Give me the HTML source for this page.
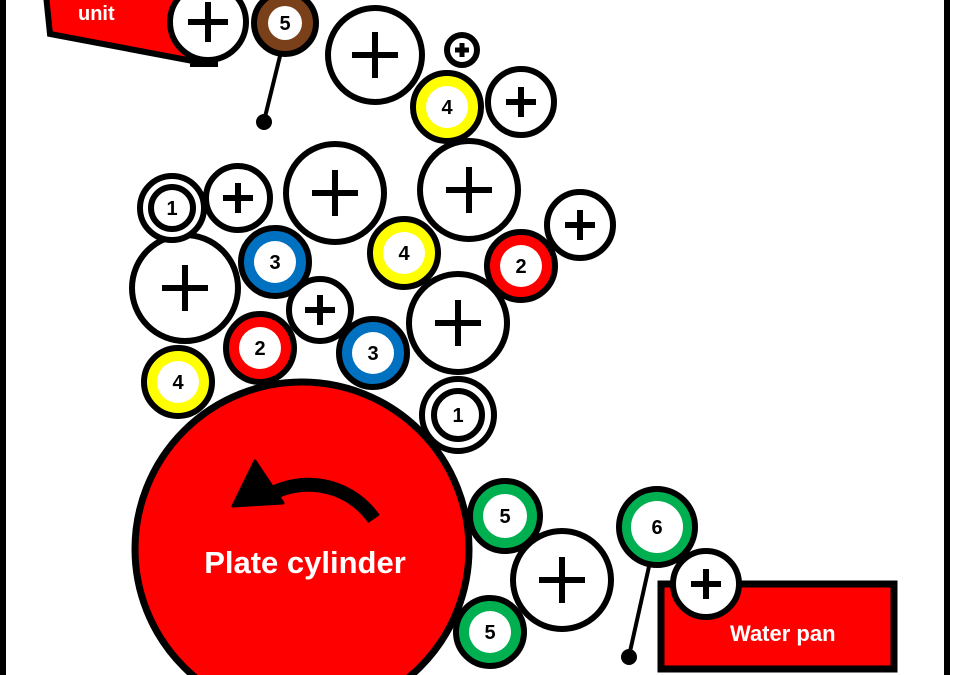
<!DOCTYPE html>
<html><head><meta charset="utf-8"><style>html,body{margin:0;padding:0;background:#fff;overflow:hidden;width:953px;height:675px}svg{display:block}text{font-family:"Liberation Sans",sans-serif;font-weight:bold}</style></head><body>
<svg width="953" height="675" viewBox="0 0 953 675" xmlns="http://www.w3.org/2000/svg">
<line x1="3" y1="0" x2="3" y2="675" stroke="#000" stroke-width="6"/>
<line x1="947" y1="0" x2="947" y2="675" stroke="#000" stroke-width="6"/>
<polygon points="46,-5 50,34 193,61 193,64 215,64 215,-5" fill="#f00" stroke="#000" stroke-width="6"/>
<text x="78" y="20" font-size="20" fill="#fff">unit</text>
<rect x="661" y="584" width="233" height="85" fill="#f00" stroke="#000" stroke-width="7"/>
<text x="730" y="641" font-size="22" fill="#fff">Water pan</text>
<line x1="281" y1="52" x2="264" y2="121" stroke="#000" stroke-width="4"/>
<circle cx="264" cy="122" r="8" fill="#000"/>
<line x1="650" y1="562" x2="629" y2="656" stroke="#000" stroke-width="4"/>
<circle cx="629" cy="657" r="8" fill="#000"/>
<g stroke="#000" stroke-width="6" fill="#fff">
<circle cx="208" cy="22" r="38"/>
<circle cx="375" cy="55" r="47"/>
<circle cx="462" cy="50" r="15"/>
<circle cx="521" cy="102" r="33"/>
<circle cx="238" cy="198" r="32"/>
<circle cx="335" cy="193" r="49"/>
<circle cx="469" cy="190" r="49"/>
<circle cx="580" cy="225" r="33"/>
<circle cx="185" cy="288" r="53"/>
<circle cx="320" cy="310" r="31"/>
<circle cx="458" cy="323" r="49"/>
<circle cx="562" cy="580" r="49"/>
<circle cx="706" cy="584" r="33"/>
</g>
<g stroke="#000" stroke-width="6">
<path d="M188,22h40M208,2v40"/>
<path d="M352,55h46M375,32v46"/>
<path d="M455,50h14M462,43v14" stroke-width="5"/>
<path d="M506,102h30M521,87v30"/>
<path d="M223,198h30M238,183v30"/>
<path d="M312,193h46M335,170v46"/>
<path d="M446,190h46M469,167v46"/>
<path d="M565,225h30M580,210v30"/>
<path d="M162,288h46M185,265v46"/>
<path d="M305,310h30M320,295v30"/>
<path d="M435,323h46M458,300v46"/>
<path d="M539,580h46M562,557v46"/>
<path d="M691,584h30M706,569v30"/>
</g>
<g stroke="#000" stroke-width="6">
<circle cx="285" cy="23" r="31" fill="#7a4019"/>
<circle cx="447" cy="107" r="34" fill="#ff0"/>
<circle cx="275" cy="262" r="34" fill="#0070c0"/>
<circle cx="404" cy="253" r="34" fill="#ff0"/>
<circle cx="521" cy="266" r="34" fill="#f00"/>
<circle cx="260" cy="348" r="34" fill="#f00"/>
<circle cx="373" cy="353" r="34" fill="#0070c0"/>
<circle cx="178" cy="382" r="34" fill="#ff0"/>
<circle cx="505" cy="516" r="35" fill="#00b050"/>
<circle cx="490" cy="632" r="34" fill="#00b050"/>
<circle cx="657" cy="527" r="38" fill="#00b050"/>
</g>
<g fill="#fff">
<circle cx="285" cy="23" r="17"/>
<circle cx="447" cy="107" r="21"/>
<circle cx="275" cy="262" r="21"/>
<circle cx="404" cy="253" r="21"/>
<circle cx="521" cy="266" r="21"/>
<circle cx="260" cy="348" r="21"/>
<circle cx="373" cy="353" r="21"/>
<circle cx="178" cy="382" r="21"/>
<circle cx="505" cy="516" r="22"/>
<circle cx="490" cy="632" r="21"/>
<circle cx="657" cy="527" r="26"/>
</g>
<g stroke="#000" fill="#fff" stroke-width="6">
<circle cx="172" cy="208" r="32"/>
<circle cx="172" cy="208" r="21"/>
<circle cx="458" cy="415" r="36"/>
<circle cx="458" cy="415" r="24"/>
</g>
<circle cx="302" cy="549" r="167" fill="#f00" stroke="#000" stroke-width="7"/>
<path d="M374,519 A80,80 0 0 0 275,492" fill="none" stroke="#000" stroke-width="14"/>
<polygon points="233,506 255,461 283,503" fill="#000" stroke="#000" stroke-width="3" stroke-linejoin="round"/>
<text x="305" y="573" font-size="31" fill="#fff" text-anchor="middle">Plate cylinder</text>
<g font-size="20" fill="#000" text-anchor="middle">
<text x="285" y="30">5</text>
<text x="447" y="114">4</text>
<text x="172" y="215">1</text>
<text x="275" y="269">3</text>
<text x="404" y="260">4</text>
<text x="521" y="273">2</text>
<text x="260" y="355">2</text>
<text x="373" y="360">3</text>
<text x="178" y="389">4</text>
<text x="458" y="422">1</text>
<text x="505" y="523">5</text>
<text x="490" y="639">5</text>
<text x="657" y="534">6</text>
</g>
</svg>
</body></html>
